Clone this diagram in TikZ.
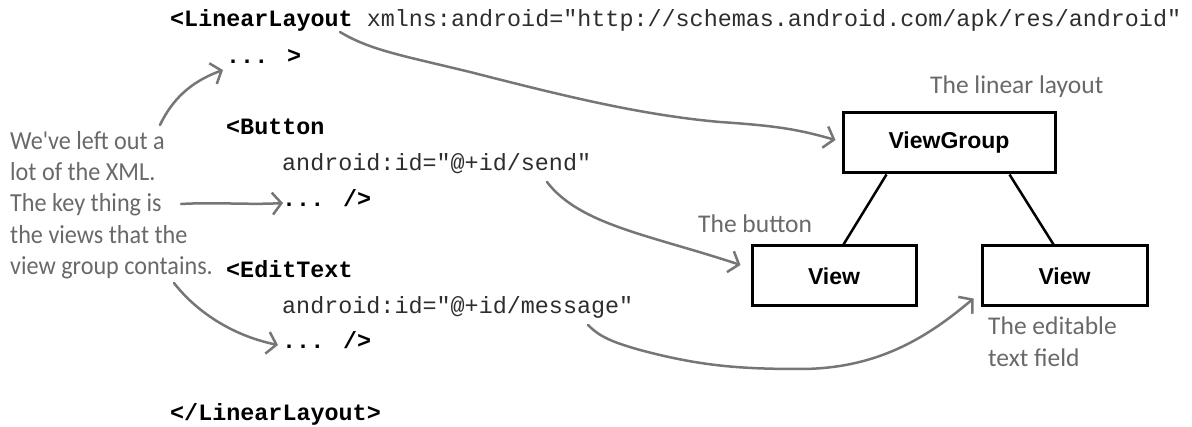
\documentclass[tikz,border=0pt]{standalone}
\usepackage{fontspec}
\setmainfont{Liberation Sans}
\newfontfamily\codefont{Liberation Mono}
\newfontfamily\handfont{Carlito}
\newfontfamily\handnarrow[FakeStretch=0.93]{Carlito}
\usetikzlibrary{arrows.meta,calc}
\definecolor{hand}{RGB}{105,105,105}
\definecolor{arrowgray}{RGB}{118,118,118}
\definecolor{codegray}{RGB}{45,45,45}
\tikzset{
  code/.style={anchor=base west, inner sep=0pt, font=\codefont\fontsize{23.4}{28}\selectfont, text=codegray},
  note/.style={inner sep=0pt, font=\handfont\fontsize{25.5}{31.25}\selectfont, text=hand, align=left},
  box/.style={draw=black, line width=3pt, minimum height=60pt, inner sep=0pt, font=\bfseries\fontsize{23}{27}\selectfont},
  link/.style={draw=black, line width=2.5pt},
  harrow/.style={draw=arrowgray, line width=2.5pt, line cap=round, line join=round,
    -{Straight Barb[length=9pt,width=22pt,line width=2.5pt]}},
}
\newcommand{\tagb}[1]{\textcolor{black}{\textbf{#1}}}
\begin{document}
\begin{tikzpicture}[x=1pt,y=-1pt]
\useasboundingbox (0,0) rectangle (1192,427);

% code
\node[code] (ll) at (170,27) {\tagb{<LinearLayout} xmlns:android="http://schemas.android.com/apk/res/android"};
\node[code] (d1) at (226,64) {\tagb{... >}};
\node[code] (bt) at (226,135) {\tagb{<Button}};
\node[code] (idsend) at (282,171) {android:id="@+id/send"};
\node[code] (d2) at (282,207) {\tagb{... />}};
\node[code] (et) at (226,278) {\tagb{<EditText}};
\node[code] (idmsg) at (282,314) {android:id="@+id/message"};
\node[code] (d3) at (282,349) {\tagb{... />}};
\node[code] (lle) at (170,421) {\tagb{</LinearLayout>}};

% boxes
\node[box, minimum width=212pt] (vg) at (949,143) {ViewGroup};
\node[box, minimum width=164pt] (v1) at (834,276) {View};
\node[box, minimum width=165pt] (v2) at (1064.5,276) {View};
\draw[link] ($(vg.south west)+(45,0)$) -- ($(v1.north west)+(93,0)$);
\draw[link] ($(vg.south east)+(-47,0)$) -- ($(v2.north west)+(73,0)$);

% notes
\node[note, anchor=west, font=\handnarrow\fontsize{26}{31.25}\selectfont] (left) at (10,205) {We've left out a\\lot of the XML.\\The key thing is\\the views that the\\view group contains.};
\node[note, anchor=west] (nll) at (930,87) {The linear layout};
\node[note, anchor=west] (nbt) at (698,224) {The button};
\node[note, anchor=north west] (ned) at (988,317) {The editable\\text field};

% arrows
\coordinate (a1) at (160,125);
\coordinate (a2) at (181,204);
\coordinate (a3) at (174,283);
\coordinate (a4) at (340,32);
\coordinate (a5) at (547,182);
\coordinate (a6) at (588,325);

\draw[harrow] (a1) .. controls (172,100) and (190,82) .. ($(d1.base west)+(-3,6)$);
\draw[harrow] (a2) .. controls (215,202) and (250,205) .. ($(d2.base west)+(1,-4)$);
\draw[harrow] (a3) .. controls (195,310) and (230,335) .. ($(d3.base west)+(-4,-4)$);
\draw[harrow] (a4) .. controls (370,50) and (400,55) .. (470,72)
  .. controls (560,95) and (640,115) .. (720,122)
  .. controls (780,126) and (800,130) .. ($(vg.west)+(-6,-3)$);
\draw[harrow] (a5) .. controls (580,225) and (650,235) .. ($(v1.west)+(-10,-11)$);
\draw[harrow] (a6) .. controls (600,337) and (612,342) .. (640,350)
  .. controls (700,366) and (740,369) .. (800,369)
  .. controls (880,369) and (930,335) .. ($(v2.south west)+(-7,-9)$);
\end{tikzpicture}
\end{document}
